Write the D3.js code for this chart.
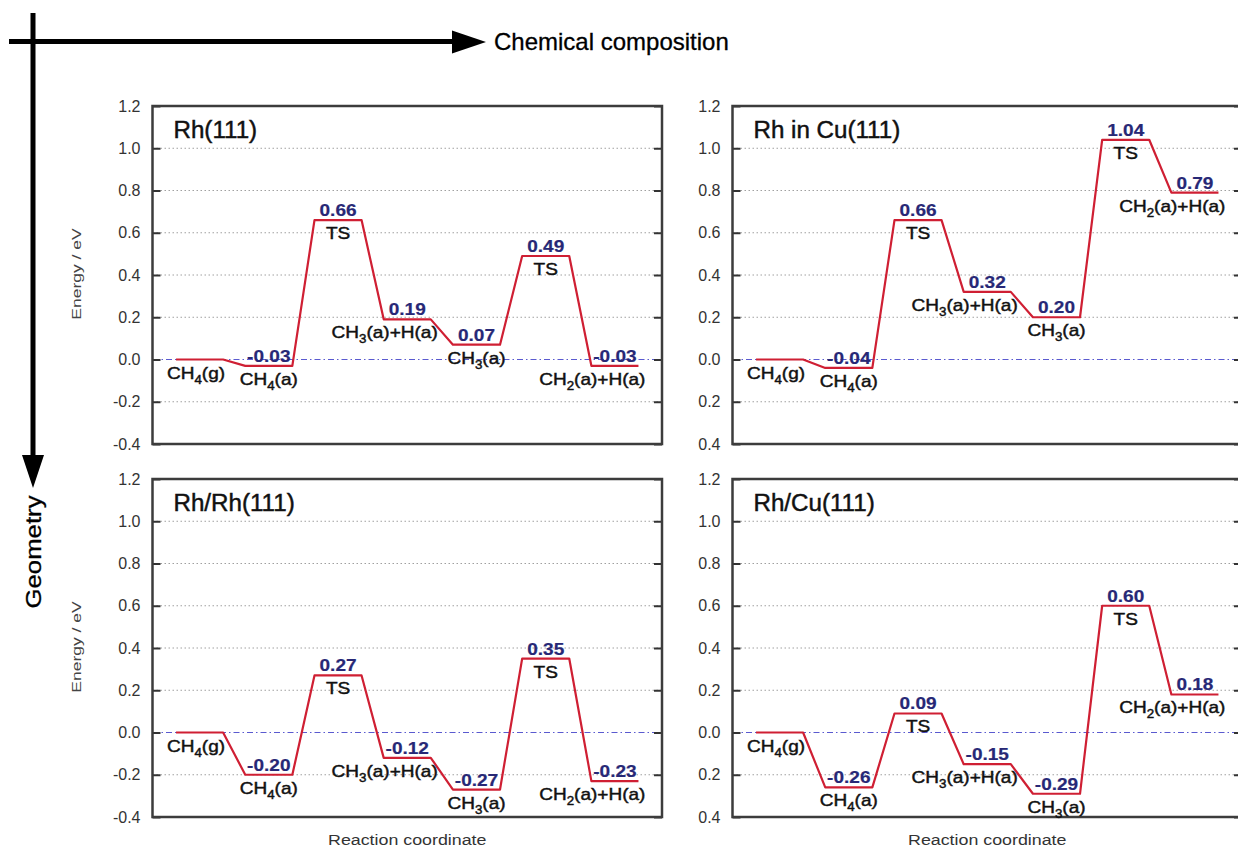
<!DOCTYPE html>
<html>
<head>
<meta charset="utf-8">
<script src="https://cdn.jsdelivr.net/npm/d3@7"></script>
<style>
  body { margin: 0; background: #fff; }
  text { font-family: "Liberation Sans", Arial, Helvetica, sans-serif; }
</style>
</head>
<body>
<svg id="chart" width="1238" height="850"></svg>
<script>
// Data
const states = ['CH_4(g)', 'CH_4(a)', 'TS', 'CH_3(a)+H(a)', 'CH_3(a)', 'TS', 'CH_2(a)+H(a)'];
const panelNames = ['Rh(111)', 'Rh in Cu(111)', 'Rh/Rh(111)', 'Rh/Cu(111)'];
const rh111 = [0, -0.03, 0.66, 0.19, 0.07, 0.49, -0.03];
const rhInCu111 = [0, -0.04, 0.66, 0.32, 0.20, 1.04, 0.79];
const rhOnRh111 = [0, -0.20, 0.27, -0.12, -0.27, 0.35, -0.23];
const rhOnCu111 = [0, -0.26, 0.09, -0.15, -0.29, 0.60, 0.18];
const tickValues = [-0.4, -0.2, 0, 0.2, 0.4, 0.6, 0.8, 1.0, 1.2];
const tickLabelsLeft = ['-0.4', '-0.2', '0.0', '0.2', '0.4', '0.6', '0.8', '1.0', '1.2'];
const tickLabelsRight = ['0.4', '0.2', '0.0', '0.2', '0.4', '0.6', '0.8', '1.0', '1.2'];

const panels = [
  { name: panelNames[0], values: rh111, ticks: tickLabelsLeft, col: 0, row: 0 },
  { name: panelNames[1], values: rhInCu111, ticks: tickLabelsRight, col: 1, row: 0 },
  { name: panelNames[2], values: rhOnRh111, ticks: tickLabelsLeft, col: 0, row: 1 },
  { name: panelNames[3], values: rhOnCu111, ticks: tickLabelsRight, col: 1, row: 1 },
];

// Layout
const colX = [152.5, 732.5];
const rowY = [106, 479];
const W = 509.5, H = 338;
const stretch = 1.12;   // text in the panels is a bit wider than the font
const red = '#cf1f33', navy = '#272876';

const svg = d3.select('#chart');

// write "CH_4(a)" with a real subscript
function richText(sel, str) {
  const parts = str.split(/_(\d)/);
  parts.forEach((p, i) => {
    if (i % 2 === 1) {
      sel.append('tspan').attr('font-size', '0.7em').attr('dy', 5).text(p);
    } else if (p) {
      sel.append('tspan').attr('dy', i > 0 ? -5 : 0).text(p);
    }
  });
}

function label(g, x, y, str, opts = {}) {
  const fill = opts.fill || '#111';
  const t = g.append('text')
    .attr('transform', `translate(${x},${y}) scale(${opts.sx || stretch},1)`)
    .attr('text-anchor', opts.anchor || 'middle')
    .style('font-size', (opts.size || 17) + 'px')
    .style('font-weight', opts.weight || 'normal')
    .style('fill', fill)
    .style('stroke', fill)
    .style('stroke-width', opts.weight === 'bold' ? 0.2 : 0.45);
  richText(t, str);
  return t;
}

const x = d3.scaleLinear().domain([-0.68, 6.68]).range([0, W]);
const y = d3.scaleLinear().domain([-0.4, 1.2]).range([H, 0]);
const half = x(0.34) - x(0);

panels.forEach((p) => {
  const g = svg.append('g').attr('transform', `translate(${colX[p.col]},${rowY[p.row]})`);

  // grid
  g.selectAll('line.grid')
    .data(tickValues.filter((d) => d > -0.4 && d < 1.2 && d !== 0))
    .join('line')
    .attr('x1', 0).attr('x2', W)
    .attr('y1', (d) => y(d)).attr('y2', (d) => y(d))
    .attr('stroke', '#a0a0a0')
    .attr('stroke-width', 1)
    .attr('stroke-dasharray', '1.5,2.5');

  // zero line
  g.append('line')
    .attr('x1', 0).attr('x2', W)
    .attr('y1', y(0)).attr('y2', y(0))
    .attr('stroke', '#5a5ad0')
    .attr('stroke-width', 1.1)
    .attr('stroke-dasharray', '6,3,1.5,3');

  // axes with inward ticks
  const left = g.append('g')
    .call(d3.axisLeft(y).tickValues(tickValues).tickSize(-8).tickPadding(12)
      .tickFormat((d, i) => p.ticks[i]));
  const right = g.append('g').attr('transform', `translate(${W},0)`)
    .call(d3.axisRight(y).tickValues(tickValues).tickSize(-8).tickFormat(''));
  [left, right].forEach((a) => {
    a.select('.domain').remove();
    a.selectAll('.tick line').attr('stroke', '#333').attr('stroke-width', 2);
    a.selectAll('.tick text')
      .style('font-size', '16px')
      .style('fill', '#333')
      .style('font-family', '"Liberation Sans", Arial, sans-serif');
  });

  // frame
  g.append('rect')
    .attr('width', W).attr('height', H)
    .attr('fill', 'none')
    .attr('stroke', '#3c3c3c')
    .attr('stroke-width', 2.5);

  // energy profile
  const pts = [];
  p.values.forEach((v, i) => {
    pts.push([x(i) - half, y(v)], [x(i) + half, y(v)]);
  });
  g.append('path')
    .attr('d', d3.line()(pts))
    .attr('fill', 'none')
    .attr('stroke', red)
    .attr('stroke-width', 2.2)
    .attr('stroke-linejoin', 'round');

  // value labels (none for the gas-phase reference)
  p.values.forEach((v, i) => {
    if (i === 0) return;
    label(g, x(i), y(v) - 4, v.toFixed(2), { weight: 'bold', fill: navy });
  });

  // state labels
  states.forEach((s, i) => {
    const v = p.values[i];
    if (i === 0) {
      label(g, x(i) + half + 2, y(v) + 19, s, { anchor: 'end' });
    } else if (s.includes('+')) {
      label(g, x(i) + half + 7, y(v) + 19, s, { anchor: 'end' });
    } else {
      label(g, x(i), y(v) + 19, s);
    }
  });

  // panel title
  label(g, 21, 32, p.name, { anchor: 'start', size: 23, sx: 1.05 });

  // axis titles
  if (p.col === 0) {
    g.append('text')
      .attr('transform', `translate(-72,${H / 2 - 1}) rotate(-90) scale(1.3,1)`)
      .attr('text-anchor', 'middle')
      .style('font-size', '13.5px')
      .style('fill', '#444')
      .text('Energy / eV');
  }
  if (p.row === 1) {
    g.append('text')
      .attr('transform', `translate(${W / 2},${H + 28}) scale(1.15,1)`)
      .attr('text-anchor', 'middle')
      .style('font-size', '15.5px')
      .style('fill', '#333')
      .text('Reaction coordinate');
  }
});

// big arrows
svg.append('line')
  .attr('x1', 9).attr('x2', 455).attr('y1', 41.5).attr('y2', 41.5)
  .attr('stroke', '#000').attr('stroke-width', 5);
svg.append('path')
  .attr('d', 'M452,30.5 L486,42 L452,53.5 Z')
  .attr('fill', '#000');
svg.append('text')
  .attr('x', 494).attr('y', 50)
  .style('font-size', '24px')
  .style('fill', '#000')
  .style('stroke', '#000')
  .style('stroke-width', 0.3)
  .text('Chemical composition');

svg.append('line')
  .attr('x1', 33).attr('x2', 33).attr('y1', 13).attr('y2', 458)
  .attr('stroke', '#000').attr('stroke-width', 5);
svg.append('path')
  .attr('d', 'M22,455 L44,455 L33,488 Z')
  .attr('fill', '#000');
svg.append('text')
  .attr('transform', 'translate(41,552) rotate(-90) scale(1.12,1)')
  .attr('text-anchor', 'middle')
  .style('font-size', '23px')
  .style('fill', '#000')
  .style('stroke', '#000')
  .style('stroke-width', 0.3)
  .text('Geometry');
</script>
</body>
</html>
